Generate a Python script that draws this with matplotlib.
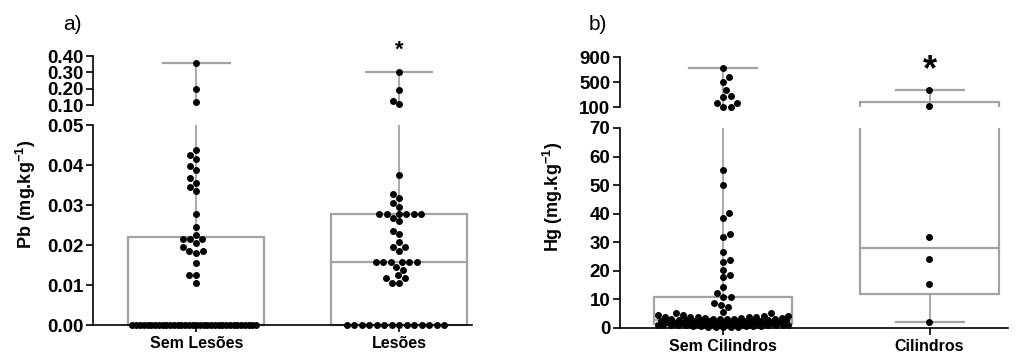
import numpy as np
import matplotlib
matplotlib.use('Agg')
import matplotlib.pyplot as plt

plt.rcParams['font.family'] = ['Liberation Sans', 'DejaVu Sans']
plt.rcParams['mathtext.fontset'] = 'custom'
plt.rcParams['mathtext.rm'] = 'Liberation Sans:bold'
plt.rcParams['mathtext.bf'] = 'Liberation Sans:bold'
plt.rcParams['mathtext.default'] = 'rm'

# ---------------- data ----------------
pb_categories = ['Sem Lesões', 'Lesões']
pb_sem_lesoes = [0.0] * 34 + [
    0.0106, 0.0125, 0.0125, 0.0156, 0.0180, 0.0186, 0.0186, 0.0196, 0.0204,
    0.0214, 0.0214, 0.0214, 0.0225, 0.0246, 0.0278, 0.0336, 0.0346, 0.0356,
    0.0367, 0.0387, 0.0397, 0.0414, 0.0425, 0.0437,
    0.117, 0.200, 0.355]
pb_lesoes = [0.0] * 14 + [
    0.0106, 0.0106, 0.0118, 0.0118, 0.0125, 0.0138, 0.0146,
    0.0158, 0.0158, 0.0158, 0.0158, 0.0158, 0.0158,
    0.0186, 0.0196, 0.0196, 0.0208, 0.0228, 0.0236, 0.0260, 0.0268,
    0.0278, 0.0278, 0.0278, 0.0278, 0.0278, 0.0278,
    0.0296, 0.0306, 0.0317, 0.0328, 0.0375,
    0.105, 0.124, 0.190, 0.300]

hg_categories = ['Sem Cilindros', 'Cilindros']
hg_sem_cilindros = [
    0.2, 0.3, 0.4, 0.5, 0.5, 0.6, 0.7, 0.7, 0.8, 0.8, 0.9, 0.9, 1.0, 1.0,
    1.1, 1.1, 1.2, 1.2, 1.2, 1.3, 1.3, 1.4, 1.4, 1.5, 1.5, 1.6, 1.6, 1.7,
    1.7, 1.8, 1.8, 1.9, 1.9, 2.0, 2.0, 2.1, 2.1, 2.2, 2.2, 2.3, 2.3, 2.4,
    2.4, 2.5, 2.5, 2.6, 2.6, 2.7, 2.8, 2.9, 3.0, 3.0, 3.1, 3.1, 3.2, 3.2,
    3.4, 3.6, 3.6, 3.9, 3.9, 3.9, 3.9, 3.9, 4.2, 4.2, 4.6, 4.6, 5.2, 5.2, 5.5,
    7.4, 8.0, 8.6, 10.7, 10.9, 12.2, 14.2, 17.7, 18.5, 20.3, 23.1, 23.7,
    26.7, 32.0, 33.0, 38.6, 40.3, 49.9, 55.4,
    104, 108, 158, 162, 266, 280, 372, 505, 578, 724]
hg_cilindros = [2.2, 15.3, 24.0, 32.0, 116, 372]

pb_lower_ticks = [0.00, 0.01, 0.02, 0.03, 0.04, 0.05]
pb_upper_ticks = [0.10, 0.20, 0.30, 0.40]
hg_lower_ticks = [0, 10, 20, 30, 40, 50, 60, 70]
hg_upper_ticks = [100, 500, 900]

# ---------------- styling ----------------
W, H = 1019, 360
GRAY = '#a3a3a3'
BOX_LW = 1.6
WH_LW = 1.3
BW = 0.335
CAPW = 0.165
DOT_D = 7.2   # px
TICKFS = 13.5
XLABFS = 11.5

fig = plt.figure(figsize=(W / 100, H / 100), dpi=100)


def px_axes(x0, x1, ytop, ybot):
    return fig.add_axes([x0 / W, 1 - ybot / H, (x1 - x0) / W, (ybot - ytop) / H])


def quartiles(v):
    return np.percentile(np.asarray(v, float), [25, 50, 75], method='weibull')


def style_axes(ax, lower, ticks, fmt, xlim):
    ax.set_xlim(*xlim)
    ax.set_ylim(ticks[0], ticks[-1])
    ax.set_facecolor('none')
    for s in ('top', 'right'):
        ax.spines[s].set_visible(False)
    ax.spines['left'].set_linewidth(1.2)
    ax.spines['bottom'].set_linewidth(1.2)
    ax.set_yticks(ticks)
    ax.set_yticklabels([fmt.format(t) for t in ticks], fontweight='bold',
                       fontsize=TICKFS)
    ax.tick_params(axis='y', length=5, width=1.2, pad=2)
    if not lower:
        ax.spines['bottom'].set_visible(False)
        ax.set_xticks([])


def vseg(ax, x, y0, y1, **kw):
    lo, hi = ax.get_ylim()
    a, b = max(min(y0, y1), lo), min(max(y0, y1), hi)
    if b > a:
        ax.plot([x, x], [a, b], clip_on=False, solid_capstyle='butt', **kw)


def hseg(ax, x0, x1, y, **kw):
    lo, hi = ax.get_ylim()
    eps = (hi - lo) * 1e-6
    if lo - eps <= y <= hi + eps:
        ax.plot([x0, x1], [y, y], clip_on=False, solid_capstyle='projecting', **kw)


def swarm(pix_y, maxhalf):
    order = np.argsort(pix_y)
    placed = []
    offs = np.zeros(len(pix_y))
    cands = np.arange(-maxhalf, maxhalf + 0.01, 0.5)
    cands = cands[np.argsort(np.abs(cands), kind='stable')]
    for i in order:
        y = pix_y[i]
        best, bestd = None, -1
        for c in cands:
            if placed:
                d = min(np.hypot(c - px, y - py) for px, py in placed)
            else:
                d = 1e9
            if d >= DOT_D:
                best = c
                break
            if d > bestd:
                bestd, best = d, c
        offs[i] = best
        placed.append((best, y))
    return offs


def draw_panel(ax_lo, ax_hi, groups):
    lo_top = ax_lo.get_ylim()[1]
    for i, vals in enumerate(groups):
        pos = i + 1
        q1, med, q3 = quartiles(vals)
        vmin, vmax = min(vals), max(vals)
        for ax in (ax_lo, ax_hi):
            kb = dict(color=GRAY, lw=BOX_LW, zorder=2)
            kw = dict(color=GRAY, lw=WH_LW, zorder=2)
            vseg(ax, pos - BW, q1, q3, **kb)
            vseg(ax, pos + BW, q1, q3, **kb)
            hseg(ax, pos - BW, pos + BW, q1, **kb)
            hseg(ax, pos - BW, pos + BW, q3, **kb)
            hseg(ax, pos - BW, pos + BW, med, **kb)
            vseg(ax, pos, q3, vmax, **kw)
            vseg(ax, pos, vmin, q1, **kw)
            hseg(ax, pos - CAPW, pos + CAPW, vmax, **kb)
            hseg(ax, pos - CAPW, pos + CAPW, vmin, **kb)
        # swarm of points
        vals = np.asarray(vals, float)
        pix_y = np.array([(ax_lo if v <= lo_top else ax_hi).transData.transform((pos, v))[1]
                          for v in vals])
        x0 = ax_lo.transData.transform((pos, 0))[0]
        x1 = ax_lo.transData.transform((pos + 1, 0))[0]
        ppu = x1 - x0
        offs = swarm(pix_y, BW * ppu - 4)
        for v, o in zip(vals, offs):
            ax = ax_lo if v <= lo_top else ax_hi
            ax.scatter(pos + o / ppu, v, s=25, color='black', linewidths=0,
                       zorder=5, clip_on=False)


# ---------------- panel a ----------------
a_lo = px_axes(93, 472, 125, 325)
a_hi = px_axes(93, 472, 56, 105)
style_axes(a_lo, True, pb_lower_ticks, '{:.2f}', (0.49, 2.36))
style_axes(a_hi, False, pb_upper_ticks, '{:.2f}', (0.49, 2.36))
a_lo.set_xticks([1, 2])
a_lo.set_xticklabels(pb_categories, fontweight='bold', fontsize=XLABFS)
a_lo.tick_params(axis='x', length=5, width=1.2, pad=3)
draw_panel(a_lo, a_hi, [pb_sem_lesoes, pb_lesoes])

# ---------------- panel b ----------------
b_lo = px_axes(620, 1008, 128, 328)
b_hi = px_axes(620, 1008, 57, 107)
style_axes(b_lo, True, hg_lower_ticks, '{:d}', (0.5, 2.38))
style_axes(b_hi, False, hg_upper_ticks, '{:d}', (0.5, 2.38))
b_lo.set_xticks([1, 2])
b_lo.set_xticklabels(hg_categories, fontweight='bold', fontsize=XLABFS)
b_lo.tick_params(axis='x', length=5, width=1.2, pad=3)
draw_panel(b_lo, b_hi, [hg_sem_cilindros, hg_cilindros])

# ---------------- labels ----------------
fig.text(26 / W, 1 - 194 / H, 'Pb (mg.kg$^{-1}$)', rotation=90, ha='center',
         va='center', fontweight='bold', fontsize=13)
fig.text(553 / W, 1 - 197 / H, 'Hg (mg.kg$^{-1}$)', rotation=90, ha='center',
         va='center', fontweight='bold', fontsize=13)
fig.text(72 / W, 1 - 24 / H, 'a)', ha='center', va='center', fontsize=15)
fig.text(598 / W, 1 - 25 / H, 'b)', ha='center', va='center', fontsize=15)

a_hi.annotate('*', xy=(2, max(pb_lesoes)), xytext=(0, 16), textcoords='offset points',
              ha='center', va='center', fontsize=16, fontweight='bold',
              annotation_clip=False)
b_hi.annotate('*', xy=(2, max(hg_cilindros)), xytext=(0, 14), textcoords='offset points',
              ha='center', va='center', fontsize=26, fontweight='bold',
              annotation_clip=False)

fig.savefig('out.png', dpi=100)
